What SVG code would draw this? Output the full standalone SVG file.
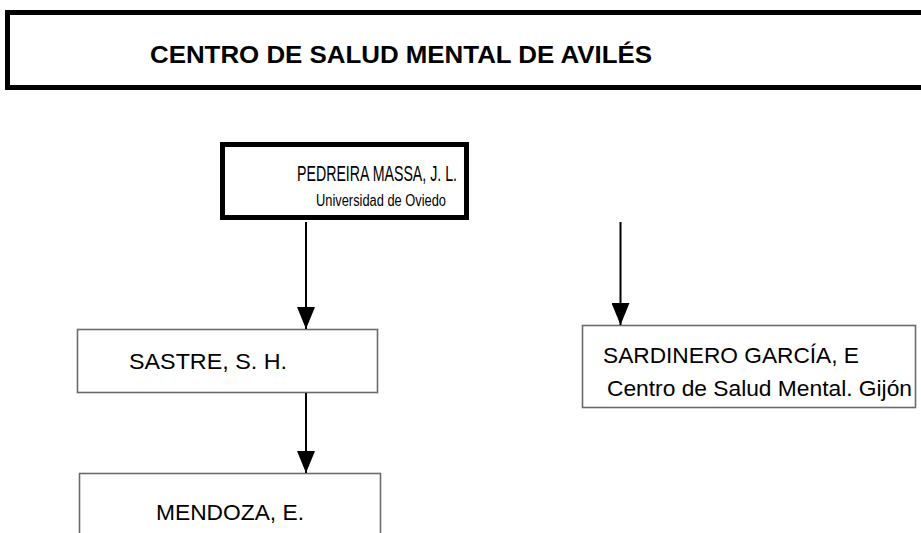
<svg xmlns="http://www.w3.org/2000/svg" width="921" height="533" viewBox="0 0 921 533">
<style>
  .t{font-family:"Liberation Sans",Arial,sans-serif;fill:#000}
  .thick{fill:#fff;stroke:#000;stroke-width:5}
  .thin{fill:#fff;stroke:#6b6b6b;stroke-width:1.6}
  .conn{stroke:#000;stroke-width:2;fill:none}
</style>
<defs>
  <marker id="ah" markerWidth="22" markerHeight="18" refX="22" refY="9" orient="auto" markerUnits="userSpaceOnUse" viewBox="0 0 22 18">
    <path d="M0,0 L22,9 L0,18 Z" fill="#000"/>
  </marker>
</defs>
<g id="title">
  <rect class="thick" x="7.5" y="12.5" width="930" height="75"/>
  <text class="t" x="150" y="63" font-size="24" font-weight="bold" textLength="502" lengthAdjust="spacingAndGlyphs">CENTRO DE SALUD MENTAL DE AVILÉS</text>
</g>
<g id="pedreira">
  <rect class="thick" x="222.5" y="144.5" width="244" height="73"/>
  <text class="t" x="297" y="181" font-size="22" textLength="160" lengthAdjust="spacingAndGlyphs">PEDREIRA MASSA, J. L.</text>
  <text class="t" x="316" y="206" font-size="16" textLength="130" lengthAdjust="spacingAndGlyphs">Universidad de Oviedo</text>
</g>
<g id="sastre">
  <rect class="thin" x="77.5" y="329.5" width="300" height="63"/>
  <text class="t" x="129" y="369" font-size="22" textLength="158" lengthAdjust="spacingAndGlyphs">SASTRE, S. H.</text>
</g>
<g id="sardinero">
  <rect class="thin" x="582.5" y="325.5" width="333" height="82"/>
  <text class="t" x="603" y="363" font-size="22" textLength="256" lengthAdjust="spacingAndGlyphs">SARDINERO GARCÍA, E</text>
  <text class="t" x="607" y="396" font-size="22" textLength="305" lengthAdjust="spacingAndGlyphs">Centro de Salud Mental. Gijón</text>
</g>
<g id="mendoza">
  <rect class="thin" x="79.5" y="473.5" width="301" height="80"/>
  <text class="t" x="156" y="520" font-size="22" textLength="148" lengthAdjust="spacingAndGlyphs">MENDOZA, E.</text>
</g>
<g id="connectors">
  <line class="conn" x1="306" y1="222" x2="306" y2="329" marker-end="url(#ah)"/>
  <line class="conn" x1="620.5" y1="222" x2="620.5" y2="325" marker-end="url(#ah)"/>
  <line class="conn" x1="306" y1="393" x2="306" y2="473" marker-end="url(#ah)"/>
</g>
</svg>
